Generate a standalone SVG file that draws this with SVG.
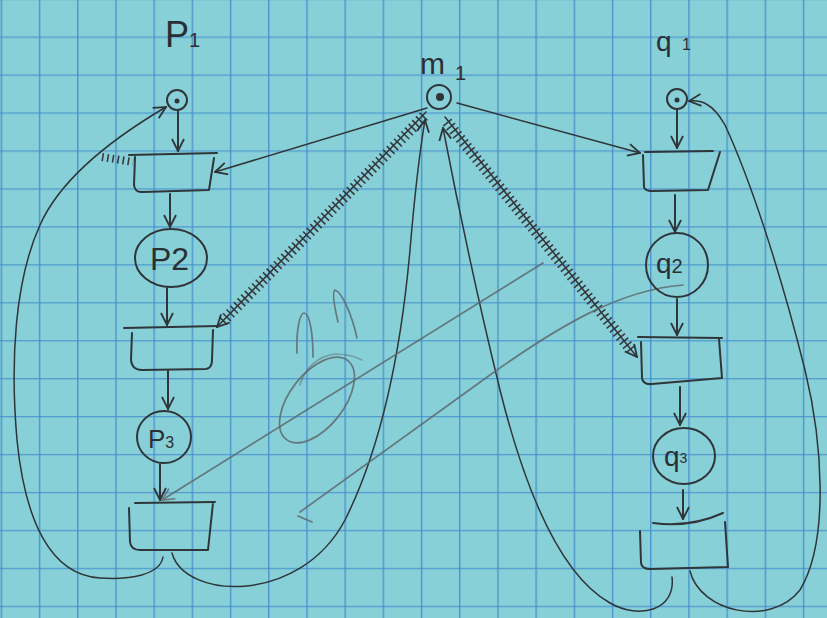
<svg xmlns="http://www.w3.org/2000/svg" width="827" height="618" viewBox="0 0 827 618">
<defs>
<pattern id="grid" patternUnits="userSpaceOnUse" x="0.65" y="-1.45" width="38.2" height="37.95">
<path d="M0.75,0 V37.95 M0,0.75 H38.2" stroke="#3f8bcb" stroke-width="1.2" fill="none"/>
</pattern>
<marker id="arr" viewBox="0 0 14 14" refX="13" refY="7" markerWidth="14" markerHeight="14" markerUnits="userSpaceOnUse" orient="auto">
<path d="M1,1 L13,7 L1,13" fill="none" stroke="#2f3538" stroke-width="1.8"/>
</marker>
<marker id="arrp" viewBox="0 0 14 14" refX="13" refY="7" markerWidth="14" markerHeight="14" markerUnits="userSpaceOnUse" orient="auto">
<path d="M1,1 L13,7 L1,13" fill="none" stroke="#5d6a6f" stroke-width="1.5"/>
</marker>
<style>
.pen{fill:none;stroke:#2f3538;stroke-width:2;stroke-linecap:round;stroke-linejoin:round}
.thin{fill:none;stroke:#2f3538;stroke-width:1.5;stroke-linecap:round}
.pencil{fill:none;stroke:#5d6a6f;stroke-width:1.7;stroke-linecap:round;opacity:0.85}
.hatch{fill:none;stroke:#3a3a3c;stroke-width:11;stroke-dasharray:1.6 3.6}
.lbl{font-family:"Liberation Sans","DejaVu Sans",sans-serif;fill:#2a2f33}
</style>
</defs>
<rect width="827" height="618" fill="#88d0d8"/>
<rect width="827" height="618" fill="url(#grid)"/>

<g id="connectors">
<path class="pen" d="M178,111 L178,151" marker-end="url(#arr)"/>
<path class="pen" d="M170,194 L170,227" marker-end="url(#arr)"/>
<path class="pen" d="M167,288 L167,325" marker-end="url(#arr)"/>
<path class="pen" d="M168,371 L168,409" marker-end="url(#arr)"/>
<path class="pen" d="M160,464 L160,500" marker-end="url(#arr)"/>
<path class="pen" d="M677,110 L677,148" marker-end="url(#arr)"/>
<path class="pen" d="M675,195 L675,232" marker-end="url(#arr)"/>
<path class="pen" d="M677,299 L677,335" marker-end="url(#arr)"/>
<path class="pen" d="M680,387 L680,425" marker-end="url(#arr)"/>
<path class="pen" d="M683,490 L683,519" marker-end="url(#arr)"/>
<path class="thin" d="M427,108 L215,172" marker-end="url(#arr)"/>
<path class="thin" d="M457,103 L640,153" marker-end="url(#arr)"/>
<path class="hatch" d="M424,116 L222,322"/>
<path class="thin" d="M426,112 L217,327" marker-end="url(#arr)"/>
<path class="hatch" d="M447,122 L632,351"/>
<path class="thin" d="M445,117 L637,357" marker-end="url(#arr)"/>
<path class="hatch" style="stroke-width:8" d="M102,157 L133,162"/>
<path class="thin" d="M163,557 C160,575 130,580 100,578 C50,575 25,520 17,440 C10,360 15,280 40,225 C60,180 110,140 166,107" marker-end="url(#arr)"/>
<path class="thin" d="M172,553 C185,600 300,605 345,520 C385,440 402,340 410,250 C415,190 420,150 425,120" marker-end="url(#arr)"/>
<path class="thin" d="M672,577 C676,610 640,620 610,603 C560,575 525,490 500,390 C478,300 455,190 443,128" marker-end="url(#arr)"/>
<path class="thin" d="M690,571 C700,612 770,628 800,590 C830,540 822,440 805,370 C785,290 755,190 725,125 C712,102 700,100 689,101" marker-end="url(#arr)"/>
<path class="pencil" d="M543,263 L162,500" marker-end="url(#arrp)"/>
<path class="pencil" d="M300,512 L490,375 C560,325 620,290 683,285"/>
<path class="pencil" d="M298,516 L312,522"/>
</g>

<g id="doodle">
<ellipse class="pencil" cx="317" cy="400" rx="27" ry="50" transform="rotate(38 317 400)"/>
<path class="pencil" d="M300,385 C305,368 318,356 335,354 C348,354 358,358 362,360" style="opacity:0.5"/>
<path class="pencil" d="M297,353 C296,330 300,313 304,313 C310,313 313,335 313,357"/>
<path class="pencil" d="M338,322 C334,305 332,292 335,290 C342,292 352,315 357,338"/>
</g>

<g id="p1">
<text class="lbl" x="165" y="47" font-size="36">P</text>
<text class="lbl" x="189" y="47" font-size="20">1</text>
<circle class="pen" cx="177" cy="100" r="10"/>
<circle cx="177" cy="101" r="2.5" fill="#2f3538"/>
</g>
<g id="t1">
<path class="pen" d="M129,155 L217,153 M135,157 L134,185 Q135,193 143,192 L209,190 L214,158"/>
</g>
<g id="p2">
<ellipse class="pen" cx="171" cy="258" rx="36" ry="29"/>
<text class="lbl" x="150" y="270" font-size="32">P2</text>
</g>
<g id="t2">
<path class="pen" d="M124,328 L218,326 M132,333 L131,360 Q132,370 142,370 L206,369 Q212,368 212,360 L213,330"/>
</g>
<g id="p3">
<ellipse class="pen" cx="164" cy="437" rx="27" ry="26"/>
<text class="lbl" x="148" y="448" font-size="26">P<tspan font-size="16">3</tspan></text>
</g>
<g id="t3">
<path class="pen" d="M135,503 L215,502 M129,508 L130,542 Q131,550 140,550 L208,550 L213,503"/>
</g>

<g id="m1">
<text class="lbl" x="420" y="74" font-size="30">m</text>
<text class="lbl" x="455" y="80" font-size="20">1</text>
<circle class="pen" cx="439" cy="97" r="12"/>
<circle cx="440" cy="97" r="4" fill="#2f3538"/>
</g>

<g id="q1">
<text class="lbl" x="656" y="51" font-size="28">q</text>
<text class="lbl" x="682" y="50" font-size="16">1</text>
<circle class="pen" cx="677" cy="99" r="10"/>
<circle cx="677" cy="100" r="2.5" fill="#2f3538"/>
</g>
<g id="tq1">
<path class="pen" d="M645,152 L713,151 M643,155 L644,187 Q645,191 652,191 L708,190 L720,152"/>
</g>
<g id="q2">
<ellipse class="pen" cx="677" cy="265" rx="31" ry="32"/>
<text class="lbl" x="656" y="273" font-size="28">q<tspan font-size="20">2</tspan></text>
</g>
<g id="tq2">
<path class="pen" d="M638,337 L722,338 M641,342 L642,378 Q643,385 652,384 L722,378 L719,339"/>
</g>
<g id="q3">
<ellipse class="pen" cx="684" cy="456" rx="31" ry="28"/>
<text class="lbl" x="664" y="466" font-size="28">q<tspan font-size="14" dy="-3">3</tspan></text>
</g>
<g id="tq3">
<path class="pen" d="M653,523 Q690,528 723,513 M640,531 L641,563 Q642,569 650,569 L728,567 L725,522"/>
</g>
</svg>
